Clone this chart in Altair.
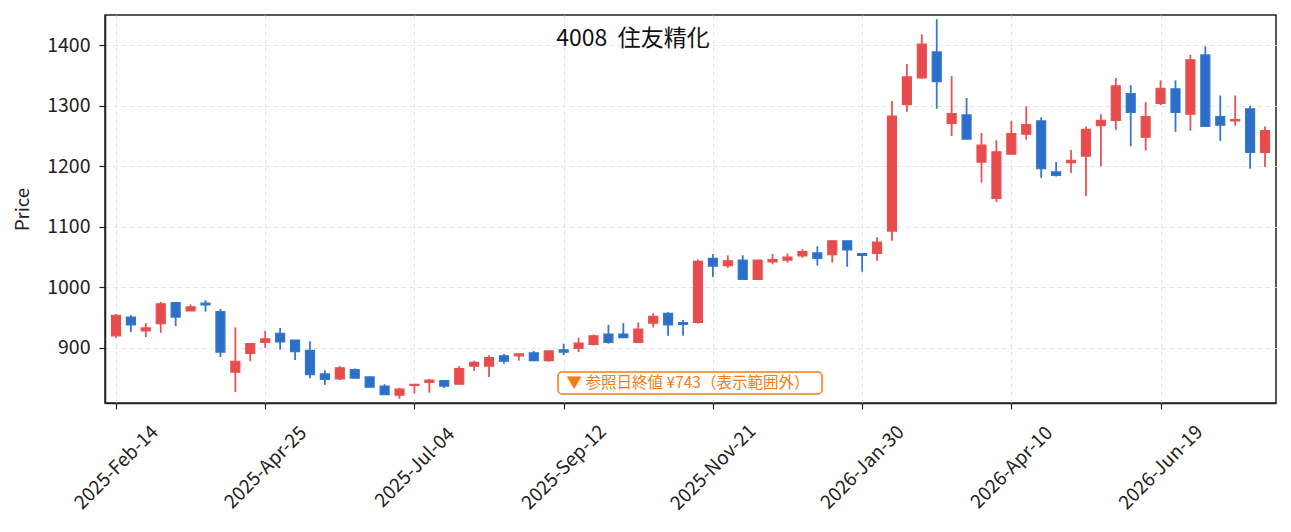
import altair as alt
import pandas as pd
import numpy as np

# ---- data (weekly candles) ----
dates = pd.date_range("2025-02-14", periods=78, freq="7D").strftime("%Y-%m-%d").tolist()

opens = [920, 951, 928, 940, 975, 961, 974, 960, 860, 891,
         909, 924, 913, 896, 857, 849, 864, 852, 837, 822,
         838, 843, 846, 840, 870, 870, 887, 887, 892, 879,
         897, 899, 906, 923, 923, 909, 941, 957, 942, 942,
         1048, 1036, 1045, 1013, 1042, 1045, 1052, 1057, 1054, 1077,
         1056, 1056, 1093, 1302, 1346, 1389, 1271, 1285, 1207, 1147,
         1220, 1253, 1275, 1191, 1206, 1217, 1267, 1276, 1320, 1248,
         1304, 1328, 1286, 1384, 1282, 1275, 1295, 1223]
highs = [956, 954, 941, 976, 975, 972, 979, 965, 934, 907,
         928, 933, 913, 911, 863, 870, 866, 853, 840, 834,
         840, 849, 847, 870, 879, 888, 890, 891, 895, 895,
         907, 917, 922, 938, 941, 942, 957, 959, 946, 1046,
         1055, 1053, 1053, 1045, 1055, 1056, 1063, 1068, 1077, 1077,
         1056, 1083, 1308, 1369, 1418, 1443, 1349, 1313, 1255, 1243,
         1275, 1299, 1281, 1207, 1227, 1266, 1286, 1346, 1334, 1306,
         1342, 1342, 1384, 1398, 1317, 1317, 1300, 1266]
lows = [917, 926, 918, 925, 936, 961, 960, 885, 827, 878,
        900, 897, 880, 850, 839, 847, 850, 835, 823, 816,
        825, 826, 834, 840, 862, 852, 874, 879, 878, 877,
        888, 893, 904, 907, 917, 909, 934, 920, 920, 940,
        1017, 1032, 1013, 1013, 1038, 1041, 1049, 1036, 1041, 1034,
        1026, 1044, 1077, 1290, 1345, 1295, 1250, 1245, 1173, 1141,
        1220, 1244, 1181, 1183, 1189, 1151, 1200, 1260, 1233, 1226,
        1301, 1257, 1259, 1266, 1242, 1267, 1196, 1199]
closes = [954, 938, 933, 973, 951, 968, 971, 893, 878, 907,
          915, 910, 894, 856, 848, 867, 850, 835, 823, 832,
          840, 847, 837, 866, 876, 884, 878, 890, 879, 895,
          893, 908, 920, 909, 917, 931, 952, 938, 939, 1043,
          1035, 1044, 1013, 1045, 1046, 1050, 1059, 1048, 1077, 1062,
          1053, 1075, 1283, 1348, 1402, 1340, 1287, 1245, 1235, 1224,
          1254, 1269, 1196, 1185, 1210, 1261, 1276, 1333, 1289, 1282,
          1329, 1289, 1376, 1266, 1268, 1277, 1223, 1259]

tick_dates = ["2025-02-14", "2025-04-25", "2025-07-04", "2025-09-12",
              "2025-11-21", "2026-01-30", "2026-04-10", "2026-06-19"]
y_ticks = [900, 1000, 1100, 1200, 1300, 1400]

title_text = "4008\u00a0\u00a0住友精化"
note_text = "▼ 参照日終値 ¥743（表示範囲外）"

df = pd.DataFrame({"date": dates, "open": opens, "high": highs,
                   "low": lows, "close": closes})
df["dir"] = np.where(df["close"] >= df["open"], "up", "down")


def ms(d):
    return int(pd.Timestamp(d, tz="UTC").value // 10**6)


pad = 2.8 * 86400000
x_domain = [ms(dates[0]) - pad, ms(dates[-1]) + pad]
tick_ms = [ms(d) for d in tick_dates]

FONT = "Noto Sans CJK JP"
RED_FILL, RED_EDGE, RED_WICK = "#E84B4B", "#CC3131", "#E65252"
BLUE_FILL, BLUE_EDGE, BLUE_WICK = "#2C6FC8", "#1C50A3", "#3477CC"

x_enc = alt.X(
    "date:T",
    scale=alt.Scale(type="utc", domain=x_domain),
    axis=alt.Axis(
        values=tick_ms,
        labelExpr="utcFormat(datum.value, '%Y-%b-%d')",
        labelAngle=315,
        labelAlign="center",
        labelBaseline="middle",
        labelPadding=58,
        labelFontSize=19,
        title=None,
    ),
)
y_enc = alt.Y(
    "low:Q",
    scale=alt.Scale(domain=[809, 1450], nice=False, zero=False),
    axis=alt.Axis(values=y_ticks, format="d", title="Price", titlePadding=14,
                  labelPadding=9, labelFontSize=19.5),
)

base = alt.Chart(df)

wick = base.mark_rule(strokeWidth=1.8).encode(
    x=x_enc,
    y=y_enc,
    y2="high:Q",
    stroke=alt.Stroke("dir:N", scale=alt.Scale(domain=["up", "down"],
                                              range=[RED_WICK, BLUE_WICK]),
                      legend=None),
)

body = base.mark_bar(size=9, strokeWidth=1.2).encode(
    x=x_enc,
    y=alt.Y("open:Q"),
    y2="close:Q",
    fill=alt.Fill("dir:N", scale=alt.Scale(domain=["up", "down"],
                                          range=[RED_FILL, BLUE_FILL]),
                  legend=None),
    stroke=alt.Stroke("dir:N", scale=alt.Scale(domain=["up", "down"],
                                              range=[RED_EDGE, BLUE_EDGE]),
                      legend=None),
)

title = alt.Chart(pd.DataFrame({"t": [title_text]})).mark_text(
    font=FONT, fontSize=23, color="#111", align="center", baseline="middle"
).encode(text="t:N", x=alt.value(528), y=alt.value(24))

box = alt.Chart(pd.DataFrame({"t": [note_text]})).mark_rect(
    fill="white", stroke="#F57C12", strokeWidth=1.5, cornerRadius=4
).encode(x=alt.value(453), x2=alt.value(717), y=alt.value(357), y2=alt.value(379))

note = alt.Chart(pd.DataFrame({"t": [note_text]})).mark_text(
    font=FONT, fontSize=15.5, color="#F57C12", align="center", baseline="middle"
).encode(text="t:N", x=alt.value(583), y=alt.value(368))

chart = alt.layer(wick, body, title, box, note).properties(
    width=1171,
    height=388,
    autosize=alt.AutoSizeParams(type="none"),
    padding={"left": 97, "top": 7, "right": 7, "bottom": 120},
    background="white",
).configure_view(
    stroke="#222", strokeWidth=1.5
).configure_axis(
    grid=True,
    gridDash=[4, 4],
    gridColor="#e2e2e2",
    gridWidth=1,
    domainColor="#222",
    domainWidth=1.5,
    tickColor="#222",
    tickWidth=1.2,
    tickSize=6,
    labelFont=FONT,
    labelColor="#222",
    titleFont=FONT,
    titleFontSize=18.5,
    titleFontWeight="normal",
    titleColor="#222",
)

chart.save("out.html", embed_options={"renderer": "svg", "actions": False})
